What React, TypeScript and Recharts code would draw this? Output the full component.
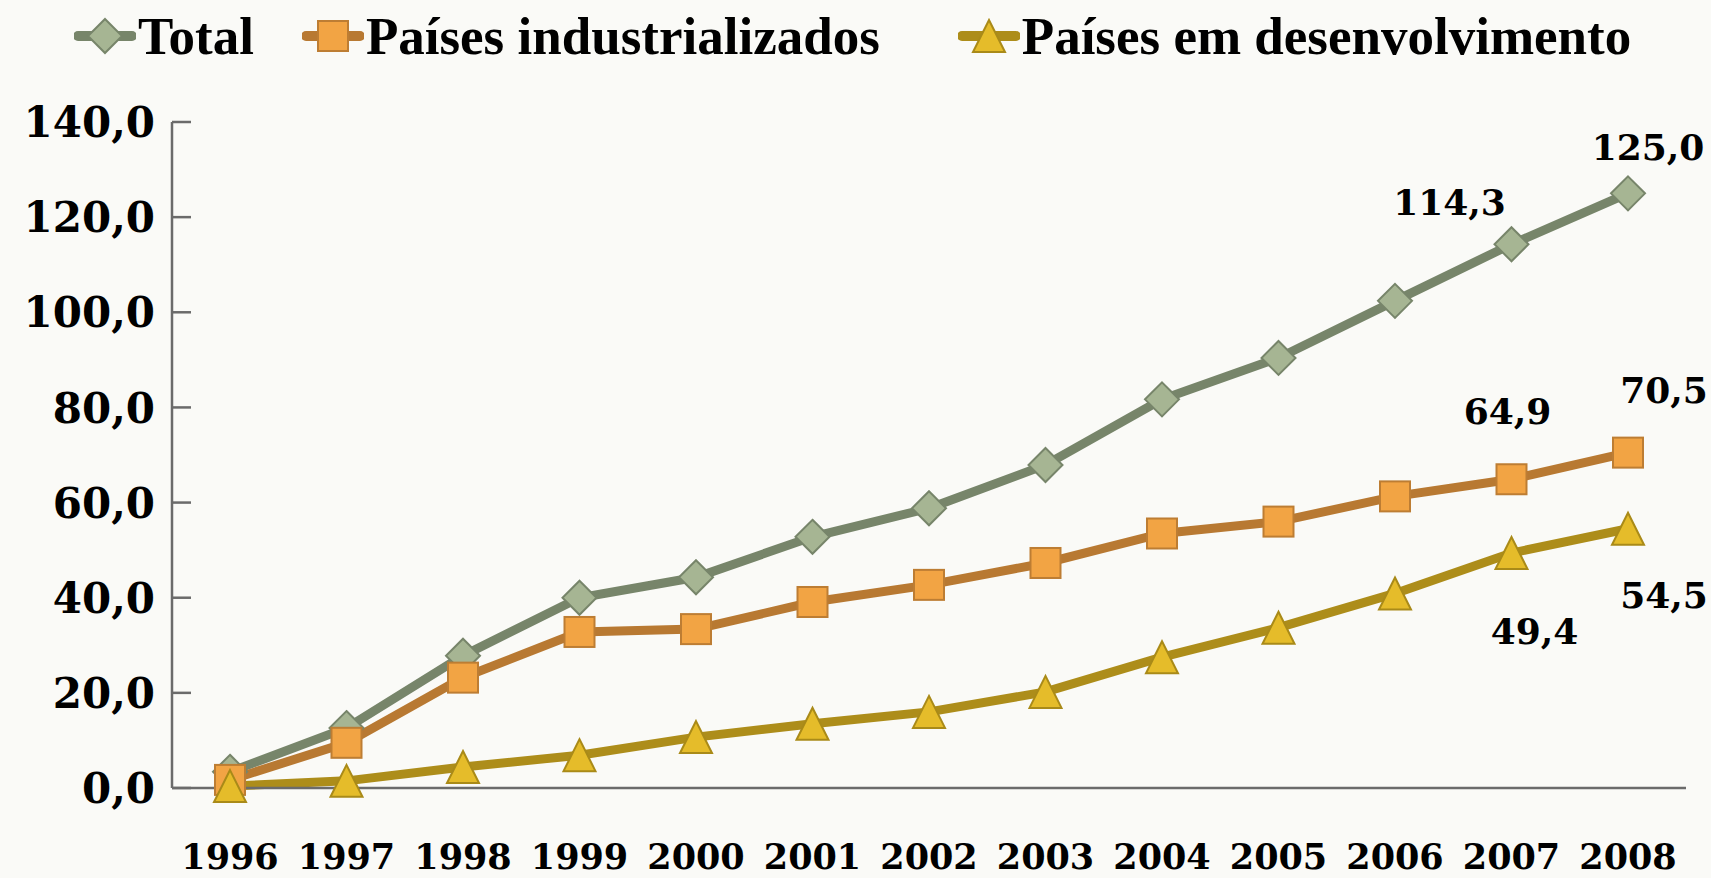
import { LineChart, Line, XAxis, YAxis, LabelList } from 'recharts'

const years = ['1996', '1997', '1998', '1999', '2000', '2001', '2002', '2003', '2004', '2005', '2006', '2007', '2008']
const total = [3.4, 12.6, 27.8, 40.0, 44.3, 52.8, 58.8, 67.9, 81.7, 90.4, 102.4, 114.3, 125.0]
const industrializados = [1.7, 9.5, 23.2, 32.8, 33.4, 39.1, 42.7, 47.3, 53.5, 56.0, 61.3, 64.9, 70.5]
const desenvolvimento = [0.4, 1.5, 4.4, 6.9, 10.7, 13.5, 16.0, 20.2, 27.5, 33.7, 40.9, 49.4, 54.5]
const yTicks = [0, 20, 40, 60, 80, 100, 120, 140]

const data = years.map((ano, i) => ({
  ano,
  total: total[i],
  ind: industrializados[i],
  dev: desenvolvimento[i],
}))

const NUM_FONT = '"DejaVu Serif", serif'
const TEXT_FONT = '"Liberation Serif", serif'
const AXIS = '#6b6b6b'

const fmt = (v: number) => v.toFixed(1).replace('.', ',')

const SERIES = {
  total: { name: 'Total', line: '#77856a', fill: '#a6b593', stroke: '#77856a', shape: 'diamond' },
  ind: { name: 'Países industrializados', line: '#b87932', fill: '#f2a444', stroke: '#bd7d33', shape: 'square' },
  dev: { name: 'Países em desenvolvimento', line: '#ad8d1a', fill: '#e5bc2a', stroke: '#a98a18', shape: 'triangle' },
} as const

// label offsets (from the point) for the last two years only
const LABEL_OFFSETS: Record<string, Record<number, [number, number]>> = {
  total: { 11: [-62, -42], 12: [20, -46] },
  ind: { 11: [-4, -68], 12: [36, -63] },
  dev: { 11: [23, 78], 12: [36, 66] },
}

function Marker({ cx, cy, shape, fill, stroke }: any) {
  if (cx == null || cy == null) return null
  if (shape === 'diamond') {
    const r = 17
    return <path d={`M${cx} ${cy - r}L${cx + r} ${cy}L${cx} ${cy + r}L${cx - r} ${cy}Z`} fill={fill} stroke={stroke} strokeWidth={2} />
  }
  if (shape === 'square') {
    const r = 15
    return <rect x={cx - r} y={cy - r} width={r * 2} height={r * 2} fill={fill} stroke={stroke} strokeWidth={2} />
  }
  const r = 16
  return <path d={`M${cx} ${cy - r}L${cx + r} ${cy + r}L${cx - r} ${cy + r}Z`} fill={fill} stroke={stroke} strokeWidth={2} />
}

function YTick({ x, y, payload }: any) {
  return (
    <g>
      <line x1={x + 17} x2={x + 36} y1={y} y2={y} stroke={AXIS} strokeWidth={2.5} />
      <text x={x} y={y} dy="0.36em" textAnchor="end" fontFamily={NUM_FONT} fontWeight="bold" fontSize={42} fill="#000">
        {fmt(payload.value)}
      </text>
    </g>
  )
}

function makeLabel(key: string) {
  return (props: any) => {
    const { x, y, value, index } = props
    const off = LABEL_OFFSETS[key][index]
    if (!off) return null
    return (
      <text
        key={`${key}-l-${index}`}
        x={x + off[0]}
        y={y + off[1]}
        dy="0.36em"
        textAnchor="middle"
        fontFamily={NUM_FONT}
        fontWeight="bold"
        fontSize={36}
        fill="#000"
      >
        {fmt(value)}
      </text>
    )
  }
}

function LegendIcon({ k }: { k: keyof typeof SERIES }) {
  const s = SERIES[k]
  return (
    <svg width={62} height={40} style={{ display: 'block' }}>
      <line x1={4} x2={58} y1={20} y2={20} stroke={s.line} strokeWidth={10} strokeLinecap="round" />
      <Marker cx={31} cy={20} shape={s.shape} fill={s.fill} stroke={s.stroke} />
    </svg>
  )
}

const LEGEND_GAPS = [0, 48, 78]

export default function App() {
  const keys = ['total', 'ind', 'dev'] as const
  return (
    <div
      style={{
        position: 'absolute',
        left: 0,
        top: 0,
        width: 1711,
        height: 878,
        background: '#fafaf7',
        overflow: 'hidden',
      }}
    >
      <div
        style={{
          position: 'absolute',
          left: 74,
          top: 6,
          display: 'flex',
          alignItems: 'center',
          fontFamily: TEXT_FONT,
          fontWeight: 'bold',
          fontSize: 53,
          color: '#000',
          whiteSpace: 'nowrap',
        }}
      >
        {keys.map((k, i) => (
          <div key={k} style={{ display: 'flex', alignItems: 'center', marginLeft: LEGEND_GAPS[i] }}>
            <LegendIcon k={k} />
            <span style={{ marginLeft: 2 }}>{SERIES[k].name}</span>
          </div>
        ))}
      </div>
      <LineChart width={1711} height={878} data={data} margin={{ top: 122, right: 25, bottom: 0, left: 0 }}>
        <XAxis
          dataKey="ano"
          height={90}
          padding={{ left: 58, right: 58 }}
          axisLine={{ stroke: AXIS, strokeWidth: 2.5 }}
          tickLine={false}
          tickSize={0}
          tickMargin={56}
          interval={0}
          tick={{ fontFamily: NUM_FONT, fontWeight: 'bold', fontSize: 35, fill: '#000' }}
        />
        <YAxis
          width={172}
          domain={[0, 140]}
          ticks={yTicks}
          interval={0}
          axisLine={{ stroke: AXIS, strokeWidth: 2.5 }}
          tickLine={false}
          tickSize={0}
          tickMargin={17}
          tick={<YTick />}
        />
        {keys.map(k => {
          const s = SERIES[k]
          return (
            <Line
              key={k}
              dataKey={k}
              type="linear"
              stroke={s.line}
              strokeWidth={9}
              isAnimationActive={false}
              dot={(p: any) => <Marker key={`${k}-d-${p.index}`} cx={p.cx} cy={p.cy} shape={s.shape} fill={s.fill} stroke={s.stroke} />}
              activeDot={false}
            >
              <LabelList dataKey={k} content={makeLabel(k)} />
            </Line>
          )
        })}
      </LineChart>
    </div>
  )
}
